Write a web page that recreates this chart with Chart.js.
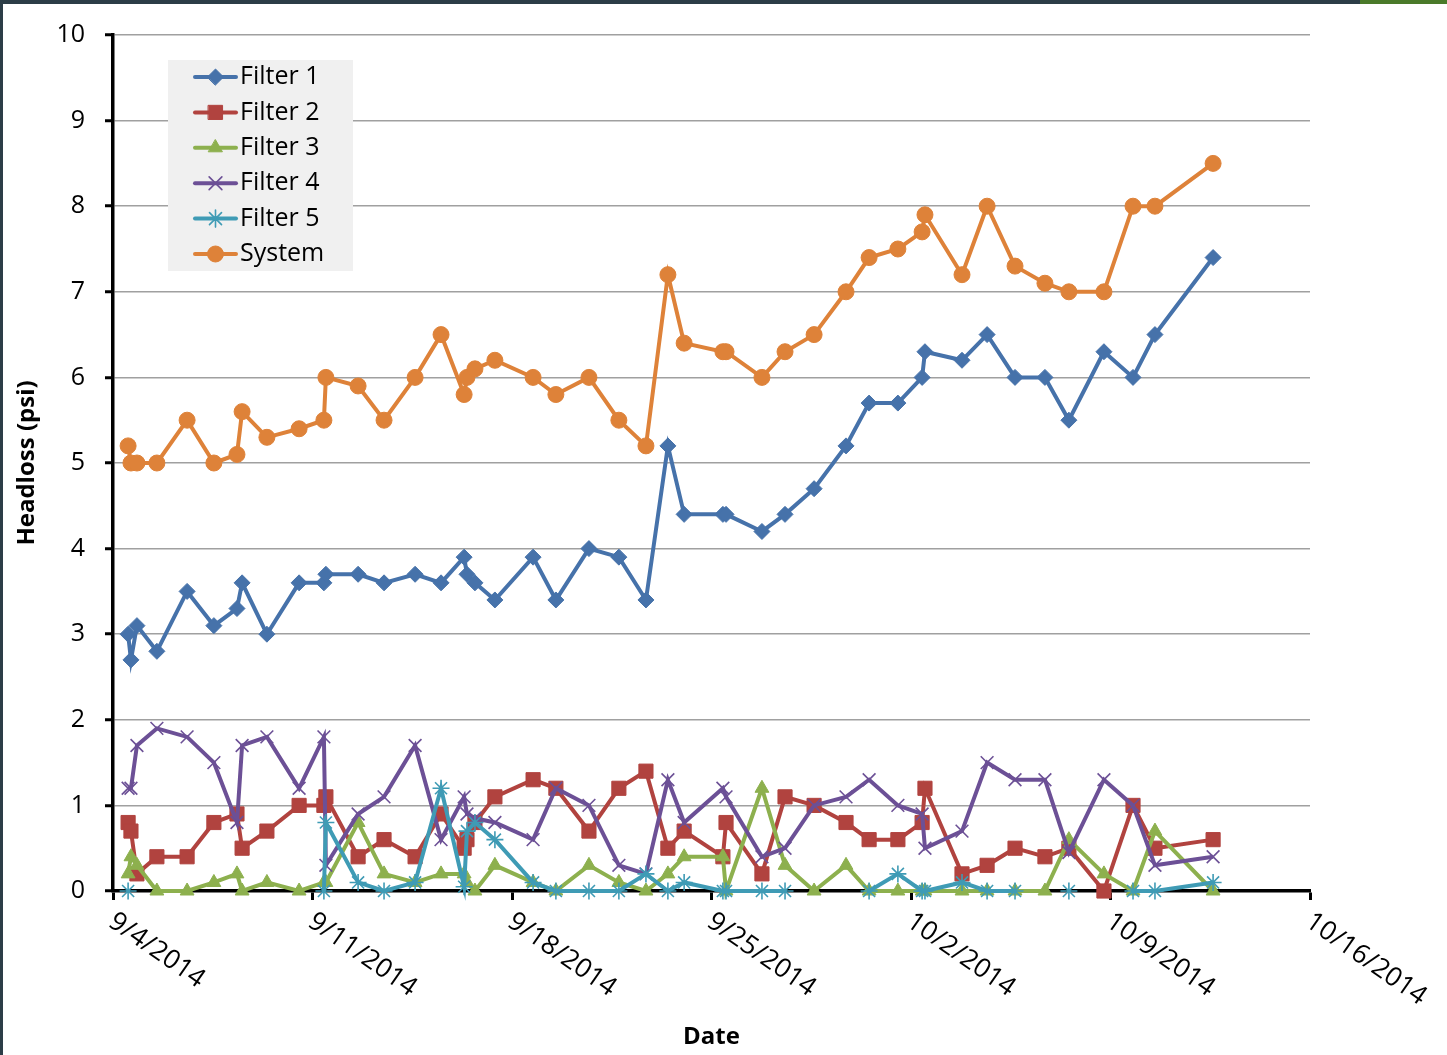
<!DOCTYPE html>
<html>
<head>
<meta charset="utf-8">
<title>Headloss</title>
<script src="https://cdn.jsdelivr.net/npm/chart.js@4.4.1/dist/chart.umd.min.js"></script>
<style>
  html, body { margin: 0; padding: 0; background: #fff; }
  #wrap { position: relative; width: 1447px; height: 1055px; overflow: hidden; background: #fff; }
  #topbar { position: absolute; left: 0; top: 0; width: 1447px; height: 4px; background: #2c3d47; }
  #topgreen { position: absolute; left: 1360px; top: 0; width: 87px; height: 4px; background: #4a7a2a; }
  #leftbar { position: absolute; left: 0; top: 0; width: 3px; height: 1055px; background: #2c3d47; }
  canvas { position: absolute; left: 0; top: 0; }
</style>
</head>
<body>
<div id="wrap">
  <div id="topbar"></div>
  <div id="topgreen"></div>
  <div id="leftbar"></div>
  <canvas id="chart" width="1447" height="1055"></canvas>
</div>
<script>
// Sample times, in days after 9/4/2014 00:00
const days = [
  0.53, 0.63, 0.84, 1.54, 2.60, 3.54, 4.35, 4.53, 5.40, 6.53,
  7.40, 7.47, 8.60, 9.51, 10.60, 11.51, 12.32, 12.42, 12.70, 13.40,
  14.74, 15.54, 16.70, 17.75, 18.70, 19.47, 20.04, 21.40, 21.51, 22.77,
  23.58, 24.60, 25.72, 26.53, 27.54, 28.39, 28.49, 29.79, 30.67, 31.65,
  32.70, 33.54, 34.77, 35.79, 36.56, 38.60
];

// Headloss (psi) per filter and for the whole system
const filter1 = [
  3.0, 2.7, 3.1, 2.8, 3.5, 3.1, 3.3, 3.6, 3.0, 3.6,
  3.6, 3.7, 3.7, 3.6, 3.7, 3.6, 3.9, 3.7, 3.6, 3.4,
  3.9, 3.4, 4.0, 3.9, 3.4, 5.2, 4.4, 4.4, 4.4, 4.2,
  4.4, 4.7, 5.2, 5.7, 5.7, 6.0, 6.3, 6.2, 6.5, 6.0,
  6.0, 5.5, 6.3, 6.0, 6.5, 7.4
];
const filter2 = [
  0.8, 0.7, 0.2, 0.4, 0.4, 0.8, 0.9, 0.5, 0.7, 1.0,
  1.0, 1.1, 0.4, 0.6, 0.4, 0.9, 0.5, 0.6, 0.8, 1.1,
  1.3, 1.2, 0.7, 1.2, 1.4, 0.5, 0.7, 0.4, 0.8, 0.2,
  1.1, 1.0, 0.8, 0.6, 0.6, 0.8, 1.2, 0.2, 0.3, 0.5,
  0.4, 0.5, 0.0, 1.0, 0.5, 0.6
];
const filter3 = [
  0.2, 0.4, 0.3, 0.0, 0.0, 0.1, 0.2, 0.0, 0.1, 0.0,
  0.1, 0.1, 0.8, 0.2, 0.1, 0.2, 0.2, 0.1, 0.0, 0.3,
  0.1, 0.0, 0.3, 0.1, 0.0, 0.2, 0.4, 0.4, 0.0, 1.2,
  0.3, 0.0, 0.3, 0.0, 0.0, 0.0, 0.0, 0.0, 0.0, 0.0,
  0.0, 0.6, 0.2, 0.0, 0.7, 0.0
];
const filter4 = [
  1.2, 1.2, 1.7, 1.9, 1.8, 1.5, 0.8, 1.7, 1.8, 1.2,
  1.8, 0.3, 0.9, 1.1, 1.7, 0.6, 1.1, 0.9, 0.85, 0.8,
  0.6, 1.2, 1.0, 0.3, 0.2, 1.3, 0.8, 1.2, 1.1, 0.4,
  0.5, 1.0, 1.1, 1.3, 1.0, 0.9, 0.5, 0.7, 1.5, 1.3,
  1.3, 0.45, 1.3, 1.0, 0.3, 0.4
];
const filter5 = [
  0.0, null, null, null, null, null, null, null, null, null,
  0.0, 0.8, 0.1, 0.0, 0.1, 1.2, 0.05, 0.7, 0.8, 0.6,
  0.1, 0.0, 0.0, 0.0, 0.2, 0.0, 0.1, 0.0, 0.0, 0.0,
  0.0, null, null, 0.0, 0.2, 0.0, 0.0, 0.1, 0.0, 0.0,
  null, 0.0, null, 0.0, 0.0, 0.1
];
const system = [
  5.2, 5.0, 5.0, 5.0, 5.5, 5.0, 5.1, 5.6, 5.3, 5.4,
  5.5, 6.0, 5.9, 5.5, 6.0, 6.5, 5.8, 6.0, 6.1, 6.2,
  6.0, 5.8, 6.0, 5.5, 5.2, 7.2, 6.4, 6.3, 6.3, 6.0,
  6.3, 6.5, 7.0, 7.4, 7.5, 7.7, 7.9, 7.2, 8.0, 7.3,
  7.1, 7.0, 7.0, 8.0, 8.0, 8.5
];

const seriesNames = ['Filter 1', 'Filter 2', 'Filter 3', 'Filter 4', 'Filter 5', 'System'];
const seriesValues = [filter1, filter2, filter3, filter4, filter5, system];

// Date axis: one label per week
const xTickValues = [0, 7, 14, 21, 28, 35, 42];
const xTickLabels = ['9/4/2014', '9/11/2014', '9/18/2014', '9/25/2014', '10/2/2014', '10/9/2014', '10/16/2014'];

// Line and marker look of each series
const looks = [
  { color: '#4672aa', pointStyle: 'rectRot',  radius: 8,   border: 1 },
  { color: '#b1433f', pointStyle: 'rect',     radius: 10,  border: 1 },
  { color: '#8db04e', pointStyle: 'triangle', radius: 8,   border: 1 },
  { color: '#6c5096', pointStyle: 'crossRot', radius: 9,   border: 1.6 },
  { color: '#3f9bb5', pointStyle: 'star',     radius: 8.5, border: 1.6 },
  { color: '#de8239', pointStyle: 'circle',   radius: 8,   border: 1 }
];

const FONT = '"Open Sans", Lato, sans-serif';
const LINE_W = 4;

const datasets = seriesNames.map((name, s) => ({
  label: name,
  data: days.map((d, i) => ({ x: d, y: seriesValues[s][i] })),
  borderColor: looks[s].color,
  backgroundColor: looks[s].color,
  pointBackgroundColor: looks[s].color,
  pointBorderColor: looks[s].color,
  pointStyle: looks[s].pointStyle,
  pointRadius: looks[s].radius,
  pointHoverRadius: looks[s].radius,
  pointBorderWidth: looks[s].border,
  borderWidth: LINE_W,
  tension: 0,
  spanGaps: false,
  clip: false,
  order: seriesNames.length - s   // later series are painted on top
}));

// Legend panel with a line-and-marker sample per series
const legendPanel = {
  id: 'legendPanel',
  afterDraw(chart) {
    const ctx = chart.ctx;
    const box = { x: 168, y: 60, w: 185, h: 211 };
    const rowH = 35.4;
    ctx.save();
    ctx.fillStyle = '#f0f0f0';
    ctx.fillRect(box.x, box.y, box.w, box.h);
    chart.data.datasets.forEach((ds, i) => {
      const cy = box.y + 17 + i * rowH;
      ctx.strokeStyle = ds.borderColor;
      ctx.lineWidth = LINE_W;
      ctx.lineCap = 'round';
      ctx.beginPath();
      ctx.moveTo(195, cy);
      ctx.lineTo(236, cy);
      ctx.stroke();
      ctx.fillStyle = ds.pointBackgroundColor;
      ctx.strokeStyle = ds.pointBorderColor;
      ctx.lineWidth = ds.pointBorderWidth;
      Chart.helpers.drawPoint(ctx, {
        pointStyle: ds.pointStyle,
        radius: ds.pointRadius,
        rotation: 0,
        borderWidth: ds.pointBorderWidth
      }, 215.5, cy);
      ctx.fillStyle = '#000';
      ctx.font = '25px ' + FONT;
      ctx.textAlign = 'left';
      ctx.textBaseline = 'middle';
      ctx.fillText(ds.label, 240, cy);
    });
    ctx.restore();
  }
};

// Slanted date labels hanging from the week ticks
const slantedDates = {
  id: 'slantedDates',
  afterDraw(chart) {
    const ctx = chart.ctx;
    const xs = chart.scales.x;
    const angle = 35 * Math.PI / 180;
    ctx.save();
    ctx.fillStyle = '#000';
    ctx.font = '26.5px ' + FONT;
    ctx.textAlign = 'left';
    ctx.textBaseline = 'top';
    xTickValues.forEach((v, i) => {
      const px = xs.getPixelForValue(v);
      ctx.save();
      ctx.translate(px + 6, xs.top + 17);
      ctx.rotate(angle);
      ctx.fillText(xTickLabels[i], 0, 0);
      ctx.restore();
    });
    ctx.restore();
  }
};

new Chart(document.getElementById('chart'), {
  type: 'line',
  data: { datasets },
  plugins: [legendPanel, slantedDates],
  options: {
    responsive: false,
    animation: false,
    events: [],
    layout: { padding: { left: 0, top: 33, right: 137, bottom: 0 } },
    plugins: {
      legend: { display: false },
      tooltip: { enabled: false },
      title: { display: false }
    },
    scales: {
      x: {
        type: 'linear',
        min: 0,
        max: 42,
        afterBuildTicks(scale) {
          scale.ticks = xTickValues.map(v => ({ value: v }));
        },
        ticks: { display: false },
        grid: {
          drawOnChartArea: false,
          drawTicks: true,
          tickLength: 9,
          tickWidth: 3,
          tickColor: '#000'
        },
        border: { display: true, color: '#000', width: 3.5 },
        title: {
          display: true,
          text: 'Date',
          color: '#000',
          font: { family: FONT, size: 24, weight: 'bold' },
          padding: { top: 0, bottom: 3 }
        },
        afterFit(scale) { scale.height = 1055 - 891; }
      },
      y: {
        type: 'linear',
        min: 0,
        max: 10,
        ticks: {
          stepSize: 1,
          color: '#000',
          padding: 20,
          font: { family: FONT, size: 25 }
        },
        grid: {
          color: '#a0a0a0',
          lineWidth: 1.5,
          drawTicks: true,
          tickLength: 8,
          tickWidth: 3,
          tickColor: '#000'
        },
        border: { display: true, color: '#000', width: 3.5 },
        title: {
          display: true,
          text: 'Headloss (psi)',
          color: '#000',
          font: { family: FONT, size: 24, weight: 'bold' },
          padding: { top: 13, bottom: 0 }
        },
        afterFit(scale) { scale.width = 113; }
      }
    }
  }
});
</script>
</body>
</html>
